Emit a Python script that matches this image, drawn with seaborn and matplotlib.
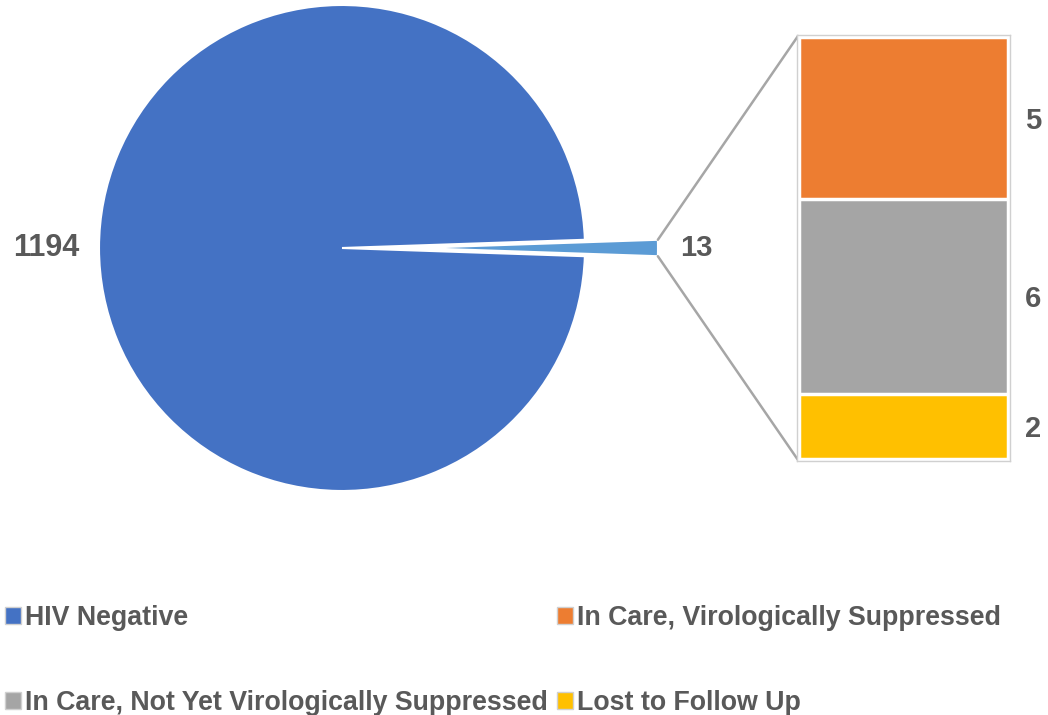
import matplotlib
matplotlib.use("Agg")
import matplotlib.pyplot as plt
from matplotlib.patches import Patch
import seaborn as sns
import numpy as np
import pandas as pd

# ---- data ----
pie_labels = ["HIV Negative", "HIV Positive"]
pie_values = [1194, 13]
bar_labels = ["In Care, Virologically Suppressed",
              "In Care, Not Yet Virologically Suppressed",
              "Lost to Follow Up"]
bar_values = [5, 6, 2]

# ---- style ----
sns.set_theme(style="white")
plt.rcParams["font.family"] = ["Liberation Sans", "DejaVu Sans"]
TEXT = "#595959"
C_BLUE = "#4472C4"
C_LBLUE = "#5B9BD5"
bar_colors = ["#ED7D31", "#A5A5A5", "#FFC000"]

W, H = 1048, 715
fig = plt.figure(figsize=(W / 100, H / 100), dpi=100)

# pie axes in pixel coordinates
ax = fig.add_axes([0, 0, 1, 1])
cx, cy, r = 342, H - 248, 243
explode_px = 73
small_deg = 360.0 * pie_values[1] / sum(pie_values)
wedges, _ = ax.pie([pie_values[1], pie_values[0]],
                   colors=[C_LBLUE, C_BLUE],
                   startangle=-small_deg / 2,
                   explode=[explode_px, 0],
                   radius=r, center=(cx, cy),
                   wedgeprops=dict(edgecolor="white", linewidth=1.5))
ax.set_xlim(0, W)
ax.set_ylim(0, H)
ax.set_aspect("equal", adjustable="box")
ax.axis("off")

# bar axes (pixel box 798-1008 x, 36-460 y)
bx0, bx1, by0, by1 = 797, 1010, 35, 461
bax = fig.add_axes([bx0 / W, 1 - by1 / H, (bx1 - bx0) / W, (by1 - by0) / H])
total = sum(bar_values)
cum = np.cumsum(bar_values[::-1])[::-1]  # tops of stacked segments: 13, 8, 2
for i in range(len(bar_values)):
    sns.barplot(x=["x"], y=[cum[i]], color=bar_colors[i], width=1.0,
                edgecolor="white", linewidth=2.5, ax=bax, saturation=1)
bax.set_xlim(-0.51, 0.51)
bax.set_ylim(-0.06, total + 0.06)
bax.set_xticks([])
bax.set_yticks([])
bax.set_xlabel("")
bax.set_ylabel("")
for s in bax.spines.values():
    s.set_visible(True)
    s.set_color("#D0D0D0")
    s.set_linewidth(1.0)
bax.set_facecolor("white")

# bar value labels
bottoms = cum - np.array(bar_values)
for v, b in zip(bar_values, bottoms):
    bax.text(1.07, (b + v / 2 + 0.06) / (total + 0.12) - 0.006, str(v),
             transform=bax.transAxes, ha="left", va="center",
             fontsize=21, fontweight="bold", color=TEXT)

# connector lines
th = np.deg2rad(small_deg / 2)
tipx = cx + explode_px + r * np.cos(th)
ax.plot([tipx, 798], [cy + r * np.sin(th), H - 36], color="#A6A6A6", lw=1.8,
        solid_capstyle="round")
ax.plot([tipx, 798], [cy - r * np.sin(th), H - 460], color="#A6A6A6", lw=1.8,
        solid_capstyle="round")

# pie value labels
ax.text(cx - r - 20, cy, str(pie_values[0]), ha="right", va="center",
        fontsize=22, fontweight="bold", color=TEXT)
ax.text(tipx + 22, cy, str(pie_values[1]), ha="left", va="center",
        fontsize=21, fontweight="bold", color=TEXT)

# legend
names = [pie_labels[0], bar_labels[1], bar_labels[0], bar_labels[2]]
cols = [C_BLUE, bar_colors[1], bar_colors[0], bar_colors[2]]
handles = [Patch(facecolor=c, edgecolor="#D0D0D0", linewidth=1.0) for c in cols]
leg = fig.legend(handles, names, ncol=2, loc="upper left",
                 bbox_to_anchor=(5 / W, 1 - 605 / H), frameon=False,
                 prop=dict(family="Liberation Sans", weight="bold", size=19.3),
                 labelcolor=TEXT, handlelength=0.6, handleheight=0.6,
                 handletextpad=0.15, columnspacing=0.35, labelspacing=2.2,
                 borderaxespad=0, borderpad=0)

fig.savefig("out.png", dpi=100, facecolor="white")
